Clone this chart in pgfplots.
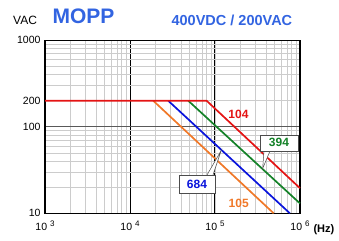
\documentclass[border=0pt]{standalone}
\usepackage{pgfplots}
\pgfplotsset{compat=1.18}
\usepackage{fontspec}
\setmainfont{Liberation Sans}
\definecolor{cred}{RGB}{228,20,20}
\definecolor{cgreen}{RGB}{20,130,40}
\definecolor{cblue}{RGB}{10,20,220}
\definecolor{corange}{RGB}{240,120,40}
\definecolor{ctitle}{RGB}{50,100,225}
\begin{document}
\begin{tikzpicture}
\begin{axis}[
  scale only axis, width=255pt, height=173pt,
  xmode=log, ymode=log,
  xmin=1e3, xmax=1e6, ymin=10, ymax=1000,
  xtick={1e3,1e4,1e5,1e6},
  xticklabels={10\hspace{3pt}\raisebox{0.7ex}{\footnotesize 3},10\hspace{3pt}\raisebox{0.7ex}{\footnotesize 4},10\hspace{3pt}\raisebox{0.7ex}{\footnotesize 5},10\hspace{3pt}\raisebox{0.7ex}{\footnotesize 6}},
  xticklabel style={yshift=-4pt},
  yticklabel style={xshift=-1pt},
  ytick={10,100,1000}, yticklabels={10,100,1000},
  extra y ticks={200}, extra y tick labels={200},
  extra y tick style={grid=none},
  major tick length=0pt, minor tick length=0pt,
  grid=both,
  major x grid style={black, line width=1pt},
  major y grid style={black!65, line width=1.1pt},
  minor x grid style={gray!40, line width=0.6pt},
  minor y grid style={gray!40, line width=0.6pt},
  axis line style={black, line width=1.4pt},
  tick label style={font=\fontsize{10.5}{12}\selectfont},
  /pgf/number format/assume math mode=true,
  clip=false,
]
\path (axis description cs:-0.1765,-0.16) rectangle (axis description cs:1.153,1.233);
\addplot[corange, line width=1.7pt] coordinates {(1.88e4,200) (4.9e5,10)};
\addplot[cblue, line width=1.7pt] coordinates {(2.82e4,200) (7.6e5,10)};
\addplot[cgreen, line width=1.7pt] coordinates {(4.85e4,200) (1e6,13)};
\addplot[cred, line width=1.7pt] coordinates {(1e3,200) (7.98e4,200) (1e6,19.5)};
\node[font=\fontsize{12}{14}\selectfont\bfseries, text=cred] at (axis cs:1.89e5,141) {104};
\node[font=\fontsize{12}{14}\selectfont\bfseries, text=corange] at (axis cs:1.9e5,12.9) {105};
\draw[black!70, fill=white, line width=0.5pt] (axis cs:3.77e5,52.6) -- (axis cs:3.64e5,33) -- (axis cs:4.44e5,52.6);
\node[draw=black!70, fill=white, line width=0.5pt, minimum width=38pt, minimum height=16pt, inner sep=1pt, font=\fontsize{12}{14}\selectfont\bfseries, text=cgreen] at (axis cs:5.66e5,65.2) {394};
\draw[black!70, fill=white, line width=0.5pt] (axis cs:8.05e4,27.7) -- (axis cs:1.18e5,53) -- (axis cs:9.47e4,27.7);
\node[draw=black!70, fill=white, line width=0.5pt, minimum width=36pt, minimum height=18pt, inner sep=1pt, font=\fontsize{12}{14}\selectfont\bfseries, text=cblue] at (axis cs:6.14e4,21.7) {684};
\node[font=\fontsize{12}{14}\selectfont] at (axis description cs:-0.078,1.116) {VAC};
\node[font=\fontsize{21}{24}\selectfont\bfseries, text=ctitle] at (axis description cs:0.151,1.140) {MOPP};
\node[font=\fontsize{14.5}{17}\selectfont\bfseries, text=ctitle] at (axis description cs:0.733,1.116) {400VDC / 200VAC};
\node[font=\fontsize{11}{13}\selectfont\bfseries] at (axis description cs:1.094,-0.093) {(Hz)};
\end{axis}
\end{tikzpicture}
\end{document}
